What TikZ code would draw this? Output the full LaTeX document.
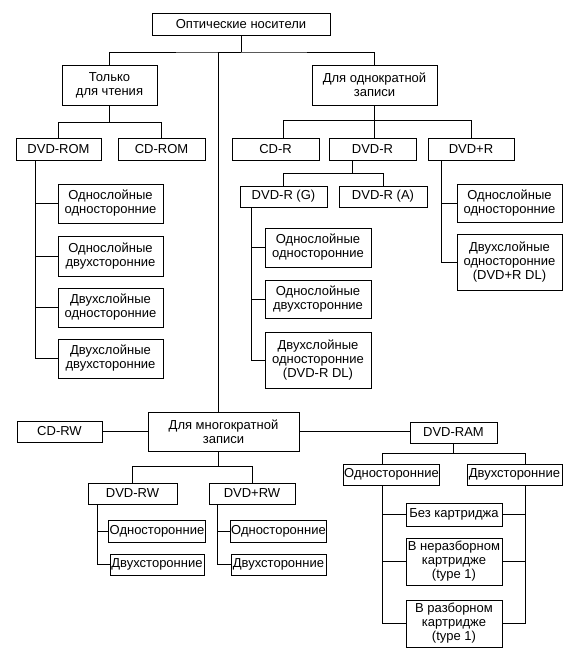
\documentclass[tikz,border=0pt]{standalone}
\usepackage{fontspec}
\setmainfont{Liberation Sans}
\usepackage{tikz}
\usetikzlibrary{positioning}
\tikzset{x=1pt, y=-1pt,
box/.style 2 args={draw, line width=0.8pt, minimum width=#1pt, minimum height=#2pt, inner sep=1pt, align=center},
every path/.style={line width=0.8pt},
font=\fontsize{13}{14}\selectfont}

\begin{document}
\begin{tikzpicture}
\useasboundingbox (0,0) rectangle (572,657);
\node[box={178}{22}] (O) at (241,24) {Оптические носители};
\node[box={95}{40}] (RO) at (109.5,85) {Только\\для чтения};
\node[box={125}{40}] (WO) at (374.5,85) {Для однократной\\записи};
% read-only
\node[box={85}{22}] (DROM) at (58.5,149) {DVD-ROM};
\node[box={87}{22}] (CROM) at (161.5,149) {CD-ROM};
\node[box={105}{39}] (ROM1) at (110.5,203.5) {Однослойные\\односторонние};
\node[box={105}{40}] (ROM2) at (110.5,256) {Однослойные\\двухсторонние};
\node[box={105}{39}] (ROM3) at (110.5,307.5) {Двухслойные\\односторонние};
\node[box={105}{39}] (ROM4) at (110.5,358.5) {Двухслойные\\двухсторонние};
% write-once
\node[box={87}{22}] (CR) at (275.5,149) {CD-R};
\node[box={87}{22}] (DR) at (372.5,149) {DVD-R};
\node[box={86}{22}] (DPR) at (471,149) {DVD+R};
\node[box={87}{21}] (DRG) at (283.5,196.5) {DVD-R (G)};
\node[box={88}{21}] (DRA) at (383,196.5) {DVD-R (A)};
\node[box={106}{39}] (G1) at (318,247.5) {Однослойные\\односторонние};
\node[box={106}{38}] (G2) at (318,299.5) {Однослойные\\двухсторонние};
\node[box={106}{56}] (G3) at (318,360) {Двухслойные\\односторонние\\(DVD-R DL)};
\node[box={105}{38}] (P1) at (509.5,203) {Однослойные\\односторонние};
\node[box={105}{56}] (P2) at (509.5,262) {Двухслойные\\односторонние\\(DVD+R DL)};
% rewritable
\node[box={151}{39}] (M) at (223.5,431.5) {Для многократной\\записи};
\node[box={85}{21}] (CRW) at (59.5,431.5) {CD-RW};
\node[box={87}{21}] (RAM) at (453.5,432.5) {DVD-RAM};
\node[box={89}{21}] (DRW) at (132.5,493.5) {DVD-RW};
\node[box={86}{21}] (DPRW) at (252,493.5) {DVD+RW};
\node[box={94}{22}] (RW1) at (157,531) {Односторонние};
\node[box={94}{21}] (RW2) at (157,564.5) {Двухсторонние};
\node[box={95}{22}] (PRW1) at (278.5,531) {Односторонние};
\node[box={95}{21}] (PRW2) at (278.5,564.5) {Двухсторонние};
\node[box={95}{21}] (S1) at (391.5,474.5) {Односторонние};
\node[box={95}{21}] (S2) at (514.5,474.5) {Двухсторонние};
\node[box={96}{23}] (K1) at (454,514.5) {Без картриджа};
\node[box={96}{47}] (K2) at (454,561.5) {В неразборном\\картридже\\(type 1)};
\node[box={96}{47}] (K3) at (454,623.5) {В разборном\\картридже\\(type 1)};

\coordinate (J) at (241,52);
\draw (O.south) -- (J);
\draw (RO.north) |- (J) -| (WO.north);
\draw ([xshift=-5.5pt]M.north) |- (J);
\draw (RO.south) -- ++(0,17) -| (DROM.north) (RO.south) ++(0,17) -| (CROM.north);
\foreach \n in {ROM1,ROM2,ROM3,ROM4}
  \draw ([xshift=-23.5pt]DROM.south) |- (\n.west);
\draw (WO.south) -- (WO.south |- DR.north);
\draw (WO.south) ++(0,15) -| ([xshift=7.5pt]CR.north) (WO.south) ++(0,15) -| (DPR.north);
\draw ([xshift=-20.5pt]DR.south) -- ++(0,13) -| (DRG.north) ([xshift=-20.5pt]DR.south) ++(0,13) -| (DRA.north);
\foreach \n in {G1,G2,G3}
  \draw ([xshift=-32.5pt]DRG.south) |- (\n.west);
\foreach \n in {P1,P2}
  \draw ([xshift=-30pt]DPR.south) |- (\n.west);
\draw (CRW) -- (M);
\draw (M.east) -- (M.east -| RAM.west);
\draw ([xshift=-5pt]M.south) -- ++(0,15) -| (DRW.north) ([xshift=-5pt]M.south) ++(0,15) -| (DPRW.north);
\foreach \n in {RW1,RW2}
  \draw ([xshift=-35.5pt]DRW.south) |- (\n.west);
\foreach \n in {PRW1,PRW2}
  \draw ([xshift=-35pt]DPRW.south) |- (\n.west);
\draw (RAM.south) -- ++(0,10);
\draw ([xshift=-9.5pt]S1.north) |- ([yshift=-10pt]RAM.south) -| ([xshift=11pt]S2.north);
\foreach \n in {K1,K2,K3}
  \draw ([xshift=-9.5pt]S1.south) |- (\n.west) ([xshift=11pt]S2.south) |- (\n.east);
\end{tikzpicture}
\end{document}
